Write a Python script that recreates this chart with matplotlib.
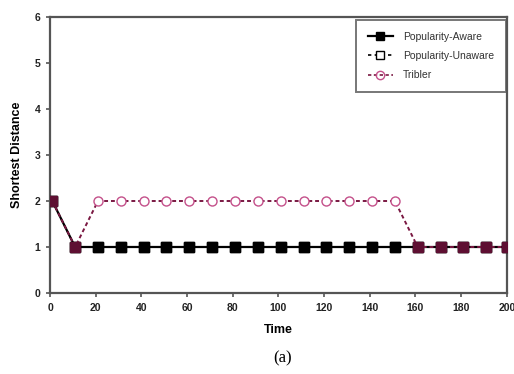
import matplotlib
matplotlib.use("Agg")
import matplotlib.pyplot as plt
from matplotlib.lines import Line2D

# shortest distance over time for the three schemes
time = [1, 11, 21, 31, 41, 51, 61, 71, 81, 91, 101, 111, 121, 131, 141, 151,
        161, 171, 181, 191, 200]
aware = [2, 1, 1, 1, 1, 1, 1, 1, 1, 1, 1, 1, 1, 1, 1, 1, 1, 1, 1, 1, 1]
unaware = [2, 1, 1, 1, 1, 1, 1, 1, 1, 1, 1, 1, 1, 1, 1, 1, 1, 1, 1, 1, 1]
tribler = [2, 1, 2, 2, 2, 2, 2, 2, 2, 2, 2, 2, 2, 2, 2, 2, 1, 1, 1, 1, 1]
labels = ["Popularity-Aware", "Popularity-Unaware", "Tribler"]
xticks = [0, 20, 40, 60, 80, 100, 120, 140, 160, 180, 200]
yticks = [0, 1, 2, 3, 4, 5, 6]

MAROON = "#5e0f32"
PINK = "#c4508a"

plt.rcParams["font.family"] = ["Liberation Sans", "DejaVu Sans"]

fig = plt.figure(figsize=(5.14, 3.74), dpi=100)
ax = fig.add_axes([0.0973, 0.2166, 0.8887, 0.7379])

ax.plot(time, aware, color="black", lw=1.6, marker="s", ms=7,
        mfc="black", mec="black", zorder=3)
ax.plot(time, unaware, color="#333333", lw=1.2, ls=(0, (2, 2)), marker="s",
        ms=7, mfc="white", mec="black", zorder=2)

# tribler: open circles where it differs, dark squares where it overlaps
same = [t == a for t, a in zip(tribler, aware)]
ax.plot(time, tribler, color="#7a1842", lw=1.4, ls=(0, (2, 1.5)), zorder=4)
ax.plot([x for x, s in zip(time, same) if not s],
        [y for y, s in zip(tribler, same) if not s],
        ls="none", marker="o", ms=6.5, mfc="white", mec=PINK, mew=1.0,
        zorder=5)
ax.plot([x for x, s in zip(time, same) if s],
        [y for y, s in zip(tribler, same) if s],
        ls="none", marker="s", ms=7, mfc=MAROON, mec=MAROON, zorder=5)

ax.set_xlim(0, 200)
ax.set_ylim(0, 6)
ax.set_xticks(xticks)
ax.set_yticks(yticks)
for side in ["left", "bottom", "right", "top"]:
    ax.spines[side].set_color("#555555")
    ax.spines[side].set_linewidth(1.6)
ax.tick_params(direction="out", length=3, width=1.2, color="#555555",
               labelsize=7.5, pad=4)
for t in ax.get_xticklabels() + ax.get_yticklabels():
    t.set_fontweight("bold")
    t.set_color("#222222")

ax.set_xlabel("Time", fontsize=9, fontweight="bold", labelpad=8)
ax.set_ylabel("Shortest Distance", fontsize=9, fontweight="bold", labelpad=8)

handles = [
    Line2D([], [], color="black", lw=1.6, marker="s", ms=6, mfc="black",
           mec="black"),
    Line2D([], [], color="black", lw=1.2, ls=(0, (2, 2)), marker="s", ms=6,
           mfc="white", mec="black"),
    Line2D([], [], color="#7a1842", lw=1.2, ls=(0, (2, 1.5)), marker="o",
           ms=6, mfc="none", mec=PINK),
]
leg = ax.legend(handles, labels, loc="upper right", fontsize=7.5,
                handlelength=2.4, frameon=True, fancybox=False,
                borderpad=1.1, labelspacing=0.9, handletextpad=1.0,
                borderaxespad=0, bbox_to_anchor=(0.998, 0.989))
leg.get_frame().set_edgecolor("#555555")
leg.get_frame().set_linewidth(1.4)
for t in leg.get_texts():
    t.set_color("#333333")

fig.text(0.549, 0.03, "(a)", fontsize=12, family="Liberation Serif",
         ha="center")

fig.savefig("out.png", dpi=100)
